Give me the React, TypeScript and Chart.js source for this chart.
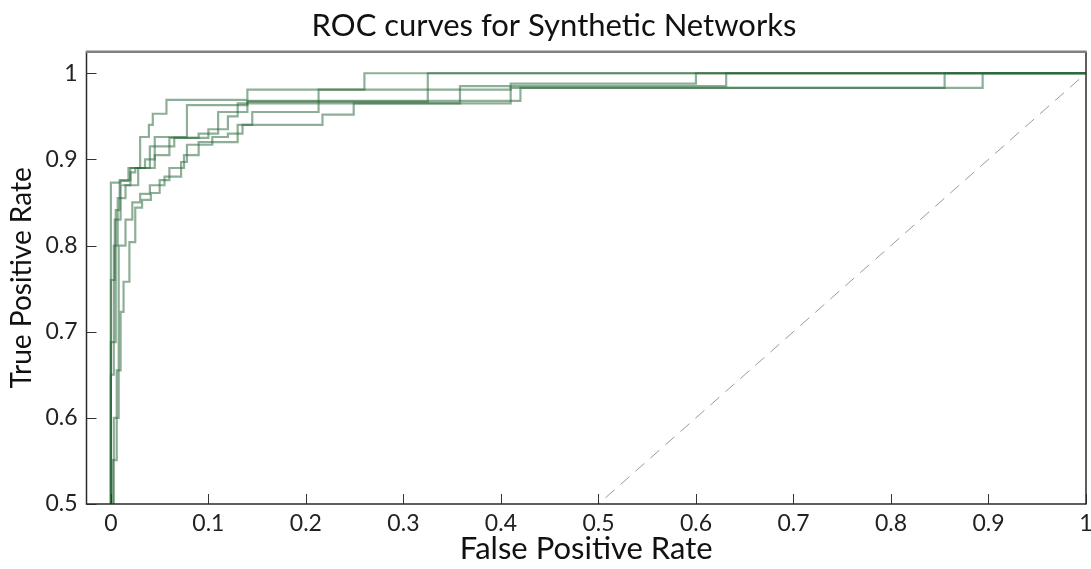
import React, { useEffect, useRef } from "react";
import { Chart, registerables } from "chart.js";

Chart.register(...registerables);

// Each curve is stored as step corners: at the previous x the curve rises to
// the given TPR level, then runs flat to the next x.
const fpr1 = [0, 0.01, 0.018, 0.03, 0.039, 0.043, 0.057, 0.14, 0.26, 1];
const tpr1 = [0, 0.873, 0.875, 0.89, 0.926, 0.94, 0.953, 0.969, 0.981, 1];

const fpr2 = [0, 0.005, 0.009, 0.02, 0.035, 0.045, 0.078, 0.14, 0.325, 1];
const tpr2 = [0, 0.688, 0.841, 0.876, 0.89, 0.9, 0.926, 0.963, 0.967, 1];

const fpr3 = [0.002, 0.006, 0.01, 0.013, 0.019, 0.025, 0.032, 0.041, 0.05, 0.06, 0.075, 0.09, 0.13, 0.145, 0.213, 0.41, 0.6, 1];
const tpr3 = [0, 0.551, 0.655, 0.723, 0.758, 0.804, 0.844, 0.853, 0.861, 0.876, 0.89, 0.905, 0.92, 0.94, 0.955, 0.981, 0.988, 1];

const fpr4 = [0.003, 0.008, 0.015, 0.022, 0.03, 0.04, 0.055, 0.072, 0.078, 0.104, 0.12, 0.135, 0.217, 0.249, 0.41, 0.855, 1];
const tpr4 = [0, 0.6, 0.8, 0.83, 0.85, 0.86, 0.87, 0.88, 0.897, 0.917, 0.926, 0.93, 0.94, 0.952, 0.965, 0.983, 1];

const fpr5 = [0, 0.004, 0.01, 0.02, 0.025, 0.045, 0.06, 0.1, 0.12, 0.13, 0.358, 0.631, 1];
const tpr5 = [0, 0.76, 0.83, 0.87, 0.885, 0.89, 0.905, 0.925, 0.935, 0.95, 0.965, 0.985, 1];

const fpr6 = [0, 0.003, 0.007, 0.015, 0.028, 0.04, 0.065, 0.09, 0.11, 0.14, 0.42, 0.894, 1];
const tpr6 = [0, 0.65, 0.8, 0.855, 0.87, 0.89, 0.915, 0.925, 0.93, 0.955, 0.968, 0.983, 1];

const chanceLine = [0, 1];

const xTicks = [0, 0.1, 0.2, 0.3, 0.4, 0.5, 0.6, 0.7, 0.8, 0.9, 1];
const yTicks = [0.5, 0.6, 0.7, 0.8, 0.9, 1];

const FONT = "Lato";
const CURVE_COLOR = "rgba(38, 102, 55, 0.52)";

const toPoints = (xs: number[], ys: number[]) => xs.map((x, i) => ({ x, y: ys[i] }));

// Plot frame with inward tick marks
const framePlugin = {
  id: "frameTicks",
  afterDraw(chart: any) {
    const { ctx, chartArea: a, scales } = chart;
    ctx.save();
    ctx.lineWidth = 1;
    ctx.strokeStyle = "#333";
    ctx.beginPath();
    xTicks.forEach((v) => {
      const px = Math.round(scales.x.getPixelForValue(v)) + 0.5;
      ctx.moveTo(px, a.bottom);
      ctx.lineTo(px, a.bottom - 10);
    });
    yTicks.forEach((v) => {
      const py = Math.round(scales.y.getPixelForValue(v)) + 0.5;
      ctx.moveTo(a.left, py);
      ctx.lineTo(a.left + 10, py);
    });
    ctx.stroke();

    ctx.lineWidth = 1.5;
    ctx.strokeStyle = "#2a2a2a";
    ctx.beginPath();
    ctx.moveTo(a.left, a.top);
    ctx.lineTo(a.left, a.bottom);
    ctx.lineTo(a.right, a.bottom);
    ctx.lineTo(a.right, a.top);
    ctx.stroke();

    ctx.lineWidth = 2.5;
    ctx.strokeStyle = "#808080";
    ctx.beginPath();
    ctx.moveTo(a.left - 0.75, a.top);
    ctx.lineTo(a.right + 0.75, a.top);
    ctx.stroke();
    ctx.restore();
  },
};

export default function App() {
  const canvasRef = useRef<HTMLCanvasElement | null>(null);

  useEffect(() => {
    if (!canvasRef.current) return;
    const curves = [
      [fpr1, tpr1],
      [fpr2, tpr2],
      [fpr3, tpr3],
      [fpr4, tpr4],
      [fpr5, tpr5],
      [fpr6, tpr6],
    ];
    const datasets: any[] = curves.map(([xs, ys], i) => ({
      label: `Network ${i + 1}`,
      data: toPoints(xs, ys),
      borderColor: CURVE_COLOR,
      borderWidth: 2.2,
      pointRadius: 0,
      fill: false,
      stepped: "after",
    }));
    datasets.unshift({
      label: "Chance",
      data: toPoints(chanceLine, chanceLine),
      borderColor: "#9a9a9a",
      borderWidth: 1,
      borderDash: [12, 8],
      pointRadius: 0,
      fill: false,
    });

    const chart = new Chart(canvasRef.current, {
      type: "line",
      data: { datasets },
      options: {
        responsive: false,
        animation: false,
        layout: { padding: { left: 22, right: 5, top: 0, bottom: 0 } },
        plugins: {
          legend: { display: false },
          tooltip: { enabled: false },
          title: {
            display: true,
            text: "ROC curves for Synthetic Networks",
            color: "#111",
            font: { family: FONT, size: 31, weight: "normal" },
            padding: { top: 7, bottom: 7.5 },
          },
        },
        scales: {
          x: {
            type: "linear",
            min: -0.025,
            max: 1,
            afterBuildTicks: (s: any) => {
              s.ticks = xTicks.map((value) => ({ value }));
            },
            afterFit: (s: any) => {
              s.height = 65;
              s.paddingLeft = 0;
              s.paddingRight = 0;
            },
            grid: { display: false, drawTicks: false },
            border: { display: false },
            ticks: {
              color: "#222",
              font: { family: FONT, size: 23 },
              padding: 6,
              maxRotation: 0,
              callback: (v: any) => String(v),
            },
            title: {
              display: true,
              text: "False Positive Rate",
              color: "#111",
              font: { family: FONT, size: 31 },
              padding: { top: 0, bottom: 1 },
            },
          },
          y: {
            type: "linear",
            min: 0.5,
            max: 1.025,
            afterBuildTicks: (s: any) => {
              s.ticks = yTicks.map((value) => ({ value }));
            },
            afterFit: (s: any) => {
              s.width = 64.5;
              s.paddingTop = 0;
              s.paddingBottom = 0;
            },
            grid: { display: false, drawTicks: false },
            border: { display: false },
            ticks: {
              color: "#222",
              font: { family: FONT, size: 23 },
              padding: 9,
              callback: (v: any) => String(v),
            },
            title: {
              display: true,
              text: "True Positive Rate",
              color: "#111",
              font: { family: FONT, size: 28 },
              padding: { top: -16.8, bottom: 0 },
            },
          },
        },
      },
      plugins: [framePlugin],
    });
    return () => chart.destroy();
  }, []);

  return (
    <div style={{ position: "fixed", left: 0, top: 0, width: 1091, height: 569, background: "#fff" }}>
      <canvas ref={canvasRef} width={1091} height={569} />
    </div>
  );
}
